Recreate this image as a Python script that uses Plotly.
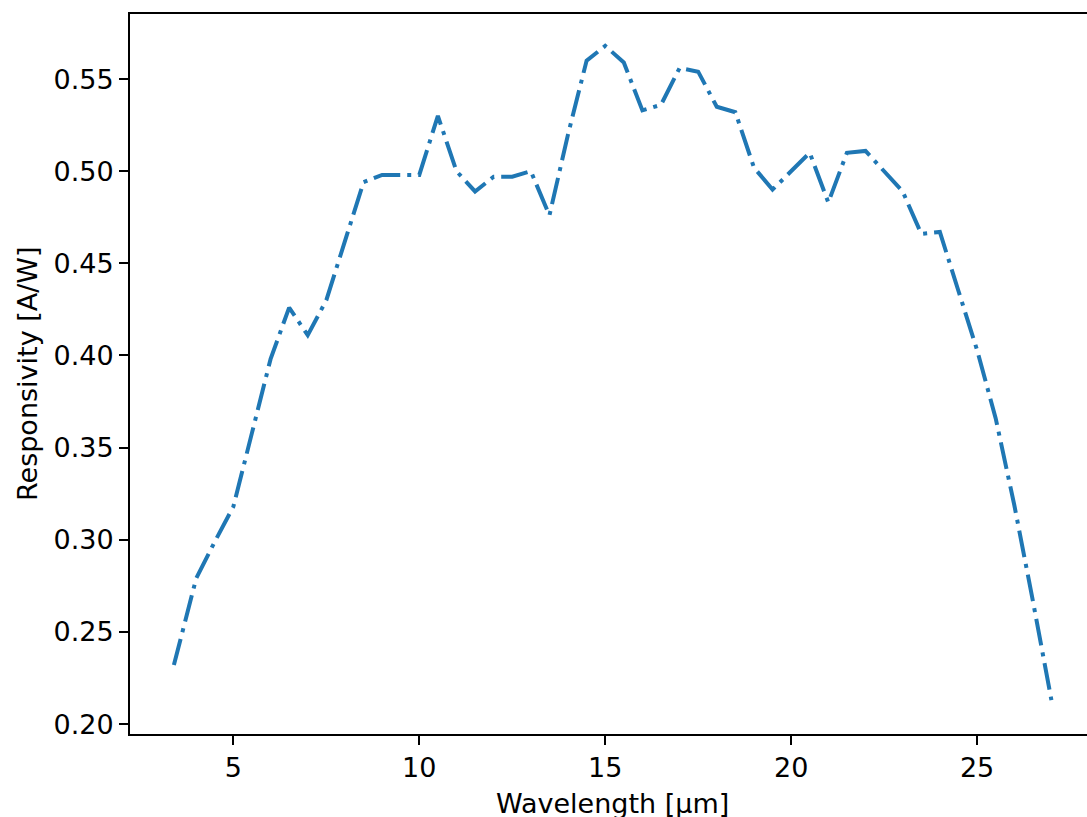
import plotly.graph_objects as go

wavelength = [3.4, 4.0, 4.5, 5.0, 5.5, 6.0, 6.5, 7.0, 7.5, 8.0, 8.5, 9.0, 9.5, 10.0,
              10.5, 11.0, 11.5, 12.0, 12.5, 13.0, 13.5, 14.0, 14.5, 15.0, 15.5, 16.0,
              16.5, 17.0, 17.5, 18.0, 18.5, 19.0, 19.5, 20.0, 20.5, 21.0, 21.5, 22.0,
              22.5, 23.0, 23.5, 24.0, 24.5, 25.0, 25.5, 26.0, 26.5, 27.0]
responsivity = [0.232, 0.279, 0.299, 0.318, 0.358, 0.398, 0.426, 0.411, 0.430, 0.462,
                0.494, 0.498, 0.498, 0.498, 0.530, 0.500, 0.489, 0.497, 0.497, 0.500,
                0.476, 0.520, 0.560, 0.568, 0.559, 0.533, 0.536, 0.556, 0.554, 0.535,
                0.532, 0.502, 0.490, 0.500, 0.510, 0.483, 0.510, 0.511, 0.500, 0.489,
                0.466, 0.467, 0.435, 0.403, 0.366, 0.319, 0.267, 0.213]

x_ticks = [5, 10, 15, 20, 25]
y_ticks = [0.20, 0.25, 0.30, 0.35, 0.40, 0.45, 0.50, 0.55]

FONT = "DejaVu Sans"
FS = 27

W, H = 1087, 817
L, T, B = 130, 14, 83
PW = W - L          # plot width (957)
PH = H - T - B      # plot height (720)

fig = go.Figure()
fig.add_trace(go.Scatter(
    x=wavelength, y=responsivity, mode="lines",
    line=dict(color="#1f77b4", width=4, dash="27px,7px,4px,7px"),
    showlegend=False, hoverinfo="skip",
))

fig.update_layout(
    width=W, height=H,
    margin=dict(l=L, r=0, t=T, b=B, pad=0),
    paper_bgcolor="white", plot_bgcolor="white",
    font=dict(family=FONT, size=FS, color="black"),
    xaxis=dict(
        range=[2.22, 27.957], tickvals=x_ticks, ticktext=[str(v) for v in x_ticks],
        showgrid=False, zeroline=False, showline=True, linecolor="black", linewidth=2,
        mirror=True, ticks="outside", ticklen=9, tickwidth=2, tickcolor="black",
        tickfont=dict(family=FONT, size=FS),
    ),
    yaxis=dict(
        range=[0.1946, 0.5853], tickvals=y_ticks, ticktext=[f"{v:.2f}" for v in y_ticks],
        showgrid=False, zeroline=False, showline=True, linecolor="black", linewidth=2,
        mirror=False, ticks="outside", ticklen=9, tickwidth=2, tickcolor="black",
        tickfont=dict(family=FONT, size=FS),
    ),
    annotations=[
        dict(text="Wavelength [µm]", xref="paper", yref="paper",
             x=(612.5 - L) / PW, y=(734 - 803) / PH,
             xanchor="center", yanchor="middle", showarrow=False,
             font=dict(family=FONT, size=FS)),
        dict(text="Responsivity [A/W]", xref="paper", yref="paper",
             x=(27 - L) / PW, y=0.5, textangle=-90,
             xanchor="center", yanchor="middle", showarrow=False,
             font=dict(family=FONT, size=FS)),
    ],
)

fig.write_html(
    "out.html",
    config={"displayModeBar": False},
    post_script="document.body.style.margin='0';document.body.style.overflow='hidden';",
)
